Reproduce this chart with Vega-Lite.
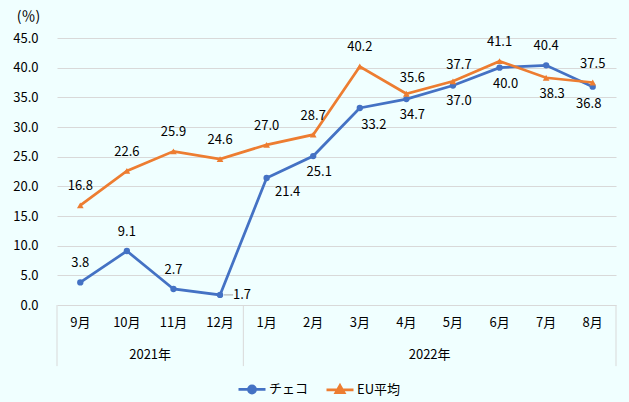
{
  "$schema": "https://vega.github.io/schema/vega-lite/v6.json",
  "width": 559,
  "height": 267,
  "autosize": "none",
  "padding": {"left": 57, "top": 38, "right": 13, "bottom": 97},
  "background": "#F0FFFF",
  "config": {
    "view": {"stroke": null},
    "font": "Noto Sans CJK JP",
    "axis": {"labelFont": "Noto Sans CJK JP", "titleFont": "Noto Sans CJK JP"},
    "legend": {"labelFont": "Noto Sans CJK JP"}
  },
  "datasets": {
    "main": [
      {"key": "2021-09", "series": "チェコ", "value": 3.8},
      {"key": "2021-10", "series": "チェコ", "value": 9.1},
      {"key": "2021-11", "series": "チェコ", "value": 2.7},
      {"key": "2021-12", "series": "チェコ", "value": 1.7},
      {"key": "2022-01", "series": "チェコ", "value": 21.4},
      {"key": "2022-02", "series": "チェコ", "value": 25.1},
      {"key": "2022-03", "series": "チェコ", "value": 33.2},
      {"key": "2022-04", "series": "チェコ", "value": 34.7},
      {"key": "2022-05", "series": "チェコ", "value": 37.0},
      {"key": "2022-06", "series": "チェコ", "value": 40.0},
      {"key": "2022-07", "series": "チェコ", "value": 40.4},
      {"key": "2022-08", "series": "チェコ", "value": 36.8},
      {"key": "2021-09", "series": "EU平均", "value": 16.8},
      {"key": "2021-10", "series": "EU平均", "value": 22.6},
      {"key": "2021-11", "series": "EU平均", "value": 25.9},
      {"key": "2021-12", "series": "EU平均", "value": 24.6},
      {"key": "2022-01", "series": "EU平均", "value": 27.0},
      {"key": "2022-02", "series": "EU平均", "value": 28.7},
      {"key": "2022-03", "series": "EU平均", "value": 40.2},
      {"key": "2022-04", "series": "EU平均", "value": 35.6},
      {"key": "2022-05", "series": "EU平均", "value": 37.7},
      {"key": "2022-06", "series": "EU平均", "value": 41.1},
      {"key": "2022-07", "series": "EU平均", "value": 38.3},
      {"key": "2022-08", "series": "EU平均", "value": 37.5}
    ],
    "years": [
      {"key": "2021-10", "year": "2021年"},
      {"key": "2022-04", "year": "2022年"}
    ],
    "sepStart": [{"key": "2021-09"}, {"key": "2022-01"}],
    "sepEnd": [{"key": "2022-08"}]
  },
  "layer": [
    {
      "data": {"name": "main"},
      "mark": {"type": "line", "strokeWidth": 2.75},
      "encoding": {
        "x": {
          "field": "key", "type": "ordinal", "sort": "ascending",
          "scale": {"type": "band", "paddingInner": 0, "paddingOuter": 0},
          "axis": {
            "title": null, "labelExpr": "toNumber(split(datum.value, '-')[1]) + '月'",
            "ticks": false, "domain": false, "grid": false, "labelAngle": 0,
            "labelPadding": 11, "labelFontSize": 13, "labelColor": "#000000"
          }
        },
        "y": {
          "field": "value", "type": "quantitative",
          "scale": {"domain": [0, 45], "nice": false},
          "axis": {
            "title": "(％)", "titleAngle": 0, "titleX": -29, "titleY": -22,
            "titleAlign": "center", "titleBaseline": "middle", "titleFontWeight": "normal",
            "titleFontSize": 14, "titleColor": "#000000",
            "values": [0, 5, 10, 15, 20, 25, 30, 35, 40, 45], "tickCount": 10, "format": ".1f",
            "labelOverlap": false,
            "ticks": false, "domain": false, "gridColor": "#d9d9d9",
            "labelPadding": 19, "labelFontSize": 13, "labelColor": "#000000"
          }
        },
        "color": {
          "field": "series", "type": "nominal",
          "scale": {"domain": ["チェコ", "EU平均"], "range": ["#4472C4", "#ED7D31"]},
          "legend": {
            "orient": "none", "legendX": 180, "legendY": 336, "direction": "horizontal",
            "title": null, "padding": 0, "symbolSize": 729, "symbolStrokeWidth": 2.75,
            "labelFontSize": 13, "labelOffset": 2, "columnPadding": 12, "labelColor": "#000000",
            "encode": {
              "symbols": {
                "update": {
                  "shape": {"signal": "datum.value === 'チェコ' ? 'M-1,0H1M-0.26,0A0.26,0.26 0 1,1 0.26,0A0.26,0.26 0 1,1 -0.26,0Z' : 'M-1,0H1M0,-0.32L0.3,0.2L-0.3,0.2Z'"},
                  "fill": {"signal": "scale('color', datum.value)"},
                  "stroke": {"signal": "scale('color', datum.value)"}
                }
              }
            }
          }
        }
      }
    },
    {
      "data": {"name": "main"},
      "transform": [{"filter": "datum.series === 'チェコ'"}],
      "mark": {"type": "point", "shape": "circle", "filled": true, "size": 40, "opacity": 1},
      "encoding": {
        "x": {"field": "key", "type": "ordinal"},
        "y": {"field": "value", "type": "quantitative"},
        "color": {"field": "series", "type": "nominal"}
      }
    },
    {
      "data": {"name": "main"},
      "transform": [{"filter": "datum.series === 'EU平均'"}],
      "mark": {"type": "point", "shape": "triangle-up", "filled": true, "size": 45, "opacity": 1},
      "encoding": {
        "x": {"field": "key", "type": "ordinal"},
        "y": {"field": "value", "type": "quantitative"},
        "color": {"field": "series", "type": "nominal"}
      }
    },
    {
      "data": {"name": "main"},
      "transform": [{"filter": "datum.series === 'チェコ' && datum.key === '2021-12'"}],
      "mark": {"type": "rule", "color": "#a6a6a6", "strokeWidth": 1},
      "encoding": {
        "x": {"field": "key", "type": "ordinal", "bandPosition": 0.58},
        "x2": {"field": "key", "bandPosition": 0.78},
        "y": {"field": "value", "type": "quantitative"}
      }
    },
    {
      "data": {"name": "main"},
      "transform": [{"filter": "indexof(['チェコ|2021-09','チェコ|2021-10','チェコ|2021-11','チェコ|2022-07','EU平均|2021-09','EU平均|2021-10','EU平均|2021-11','EU平均|2021-12','EU平均|2022-01','EU平均|2022-02','EU平均|2022-03','EU平均|2022-06','EU平均|2022-08'], datum.series + '|' + datum.key) >= 0"}],
      "mark": {"type": "text", "dy": -19, "fontSize": 13, "color": "#000000"},
      "encoding": {
        "x": {"field": "key", "type": "ordinal"},
        "y": {"field": "value", "type": "quantitative"},
        "text": {"field": "value", "type": "quantitative", "format": ".1f"}
      }
    },
    {
      "data": {"name": "main"},
      "transform": [{"filter": "indexof(['EU平均|2022-04','EU平均|2022-05'], datum.series + '|' + datum.key) >= 0"}],
      "mark": {"type": "text", "dx": 6, "dy": -16, "fontSize": 13, "color": "#000000"},
      "encoding": {
        "x": {"field": "key", "type": "ordinal"},
        "y": {"field": "value", "type": "quantitative"},
        "text": {"field": "value", "type": "quantitative", "format": ".1f"}
      }
    },
    {
      "data": {"name": "main"},
      "transform": [{"filter": "indexof(['チェコ|2022-02','チェコ|2022-04','チェコ|2022-05','チェコ|2022-06','EU平均|2022-07'], datum.series + '|' + datum.key) >= 0"}],
      "mark": {"type": "text", "dx": 6, "dy": 16, "fontSize": 13, "color": "#000000"},
      "encoding": {
        "x": {"field": "key", "type": "ordinal"},
        "y": {"field": "value", "type": "quantitative"},
        "text": {"field": "value", "type": "quantitative", "format": ".1f"}
      }
    },
    {
      "data": {"name": "main"},
      "transform": [{"filter": "datum.series === 'チェコ' && datum.key === '2022-03'"}],
      "mark": {"type": "text", "dx": 14, "dy": 17, "fontSize": 13, "color": "#000000"},
      "encoding": {
        "x": {"field": "key", "type": "ordinal"},
        "y": {"field": "value", "type": "quantitative"},
        "text": {"field": "value", "type": "quantitative", "format": ".1f"}
      }
    },
    {
      "data": {"name": "main"},
      "transform": [{"filter": "datum.series === 'チェコ' && datum.key === '2022-08'"}],
      "mark": {"type": "text", "dx": -4, "dy": 17, "fontSize": 13, "color": "#000000"},
      "encoding": {
        "x": {"field": "key", "type": "ordinal"},
        "y": {"field": "value", "type": "quantitative"},
        "text": {"field": "value", "type": "quantitative", "format": ".1f"}
      }
    },
    {
      "data": {"name": "main"},
      "transform": [{"filter": "datum.series === 'チェコ' && datum.key === '2021-12'"}],
      "mark": {"type": "text", "dx": 22, "dy": 0, "fontSize": 13, "color": "#000000"},
      "encoding": {
        "x": {"field": "key", "type": "ordinal"},
        "y": {"field": "value", "type": "quantitative"},
        "text": {"field": "value", "type": "quantitative", "format": ".1f"}
      }
    },
    {
      "data": {"name": "main"},
      "transform": [{"filter": "datum.series === 'チェコ' && datum.key === '2022-01'"}],
      "mark": {"type": "text", "dx": 21, "dy": 14, "fontSize": 13, "color": "#000000"},
      "encoding": {
        "x": {"field": "key", "type": "ordinal"},
        "y": {"field": "value", "type": "quantitative"},
        "text": {"field": "value", "type": "quantitative", "format": ".1f"}
      }
    },
    {
      "data": {"name": "sepStart"},
      "mark": {"type": "rule", "color": "#d9d9d9", "strokeWidth": 1},
      "encoding": {
        "x": {"field": "key", "type": "ordinal", "bandPosition": 0},
        "y": {"datum": 0},
        "y2": {"datum": -10.3}
      }
    },
    {
      "data": {"name": "sepEnd"},
      "mark": {"type": "rule", "color": "#d9d9d9", "strokeWidth": 1},
      "encoding": {
        "x": {"field": "key", "type": "ordinal", "bandPosition": 1},
        "y": {"datum": 0},
        "y2": {"datum": -10.3}
      }
    },
    {
      "data": {"name": "years"},
      "mark": {"type": "text", "fontSize": 13, "color": "#000000"},
      "encoding": {
        "x": {"field": "key", "type": "ordinal", "bandPosition": 1},
        "y": {"datum": -8.4},
        "text": {"field": "year", "type": "nominal"}
      }
    }
  ]
}
